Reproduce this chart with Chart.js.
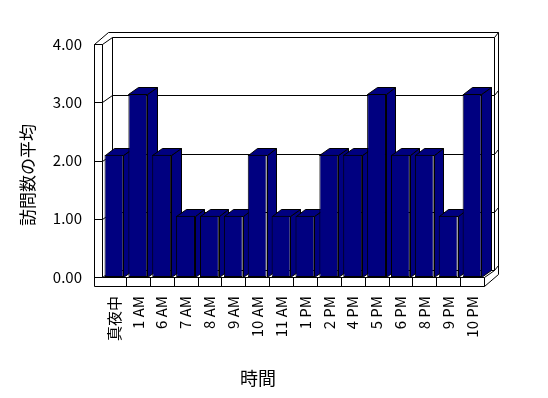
<!DOCTYPE html>
<html>
<head>
<meta charset="utf-8">
<script src="https://cdn.jsdelivr.net/npm/chart.js@4.4.0/dist/chart.umd.min.js"></script>
<style>
  html, body { margin: 0; padding: 0; background: #fff; }
  #wrap { width: 548px; height: 398px; }
</style>
</head>
<body>
<div id="wrap"><canvas id="myChart" width="548" height="398"></canvas></div>
<script>
const hours = ['真夜中', '1 AM', '6 AM', '7 AM', '8 AM', '9 AM', '10 AM', '11 AM', '1 PM', '2 PM', '4 PM', '5 PM', '6 PM', '8 PM', '9 PM', '10 PM'];
const avgVisits = [2.1, 3.14, 2.1, 1.05, 1.05, 1.05, 2.1, 1.05, 1.05, 2.1, 2.1, 3.14, 2.1, 2.1, 1.05, 3.14];
const yTickValues = [0, 1, 2, 3, 4];
const yTitle = '訪問数の平均';
const xTitle = '時間';

const fontFamily = '"Noto Sans CJK JP", "Noto Sans", sans-serif';
const barColor = '#000080';
// oblique depth of the plot box (front plane -> back wall)
const depthX = 9.5, depthY = -7;
// wall / floor thickness
const wallW = 8, floorH = 9, backX = 4, backY = -5;

// crisp 1px lines
const px = v => Math.round(v) + 0.5;

function poly(ctx, pts, fill) {
  ctx.beginPath();
  ctx.moveTo(px(pts[0][0]), px(pts[0][1]));
  for (let i = 1; i < pts.length; i++) ctx.lineTo(px(pts[i][0]), px(pts[i][1]));
  if (fill) {
    ctx.closePath();
    ctx.fillStyle = fill;
    ctx.fill();
  }
  ctx.stroke();
}

const box3d = {
  id: 'box3d',
  beforeDatasetsDraw(chart) {
    const ctx = chart.ctx;
    const { left: L, right: R, top: T, bottom: B } = chart.chartArea;
    const yScale = chart.scales.y;
    const xScale = chart.scales.x;
    ctx.save();
    ctx.strokeStyle = '#000';
    ctx.lineWidth = 1;

    // left wall front face + floor front face
    poly(ctx, [[L - wallW, T], [L, T]]);
    poly(ctx, [[L - wallW, T], [L - wallW, B + floorH], [R, B + floorH], [R, B]]);
    poly(ctx, [[L, T], [L, B], [R, B]]);
    // left wall top face
    poly(ctx, [[L - wallW, T], [L - wallW + depthX + backX, T + depthY + backY]]);
    // back wall
    poly(ctx, [[L - wallW + depthX + backX, T + depthY + backY], [R + depthX + backX, T + depthY + backY],
               [R + depthX + backX, B + floorH + depthY + backY]]);
    poly(ctx, [[L + depthX, B + depthY], [L + depthX, T + depthY]]);
    poly(ctx, [[R + depthX, T + depthY], [R + depthX, B + depthY]]);
    // floor right side
    poly(ctx, [[R, B], [R + depthX, B + depthY]]);
    poly(ctx, [[R, B + floorH], [R + depthX + backX, B + floorH + depthY + backY]]);

    // gridlines on the left and back walls
    yTickValues.forEach(v => {
      const y = yScale.getPixelForValue(v);
      poly(ctx, [[L - wallW, y], [L, y], [L + depthX, y + depthY], [R + depthX, y + depthY],
                 [R + depthX + backX, y + depthY + backY]]);
    });

    // floor front dividers
    for (let i = 1; i < hours.length; i++) {
      const x = (xScale.getPixelForValue(i - 1) + xScale.getPixelForValue(i)) / 2;
      poly(ctx, [[x, B], [x, B + floorH]]);
    }

    // bar tops and sides (fronts are drawn by Chart.js on top)
    const meta = chart.getDatasetMeta(0);
    meta.data.forEach(bar => {
      const x1 = bar.x - bar.width / 2, x2 = bar.x + bar.width / 2;
      const yt = bar.y, yb = bar.base;
      poly(ctx, [[x2, yb], [x2 + depthX, yb + depthY], [x2 + depthX, yt + depthY], [x2, yt]], barColor);
      poly(ctx, [[x1, yt], [x1 + depthX, yt + depthY], [x2 + depthX, yt + depthY], [x2, yt]], barColor);
    });
    ctx.restore();
  },
  afterDraw(chart) {
    const ctx = chart.ctx;
    ctx.save();
    ctx.fillStyle = '#000';
    ctx.textAlign = 'center';
    ctx.textBaseline = 'middle';
    ctx.font = '17px ' + fontFamily;
    ctx.translate(28, 175);
    ctx.rotate(-Math.PI / 2);
    ctx.fillText(yTitle, 0, 0);
    ctx.restore();
    ctx.save();
    ctx.fillStyle = '#000';
    ctx.textAlign = 'center';
    ctx.textBaseline = 'middle';
    ctx.font = '18px ' + fontFamily;
    ctx.fillText(xTitle, 258, 378);
    ctx.restore();
  }
};

new Chart(document.getElementById('myChart'), {
  type: 'bar',
  data: {
    labels: hours,
    datasets: [{
      label: yTitle,
      data: avgVisits,
      backgroundColor: barColor,
      borderColor: '#000',
      borderWidth: 1,
      borderSkipped: false,
      categoryPercentage: 1,
      barPercentage: 0.79
    }]
  },
  options: {
    responsive: false,
    animation: false,
    layout: { padding: { top: 44, right: 64, left: 0, bottom: 0 } },
    plugins: {
      legend: { display: false },
      tooltip: { enabled: false }
    },
    scales: {
      x: {
        grid: { display: false, drawTicks: false },
        border: { display: false },
        ticks: {
          color: '#000',
          font: { family: fontFamily, size: 15 },
          minRotation: 90,
          maxRotation: 90,
          autoSkip: false,
          padding: 19
        },
        afterFit: scale => { scale.height = 121; }
      },
      y: {
        min: 0,
        max: 4,
        grid: { display: false, drawTicks: false },
        border: { display: false },
        afterBuildTicks: scale => { scale.ticks = yTickValues.map(v => ({ value: v })); },
        ticks: {
          color: '#000',
          font: { family: fontFamily, size: 15 },
          padding: 20,
          callback: v => v.toFixed(2)
        },
        afterFit: scale => { scale.width = 102; }
      }
    }
  },
  plugins: [box3d]
});
</script>
</body>
</html>
